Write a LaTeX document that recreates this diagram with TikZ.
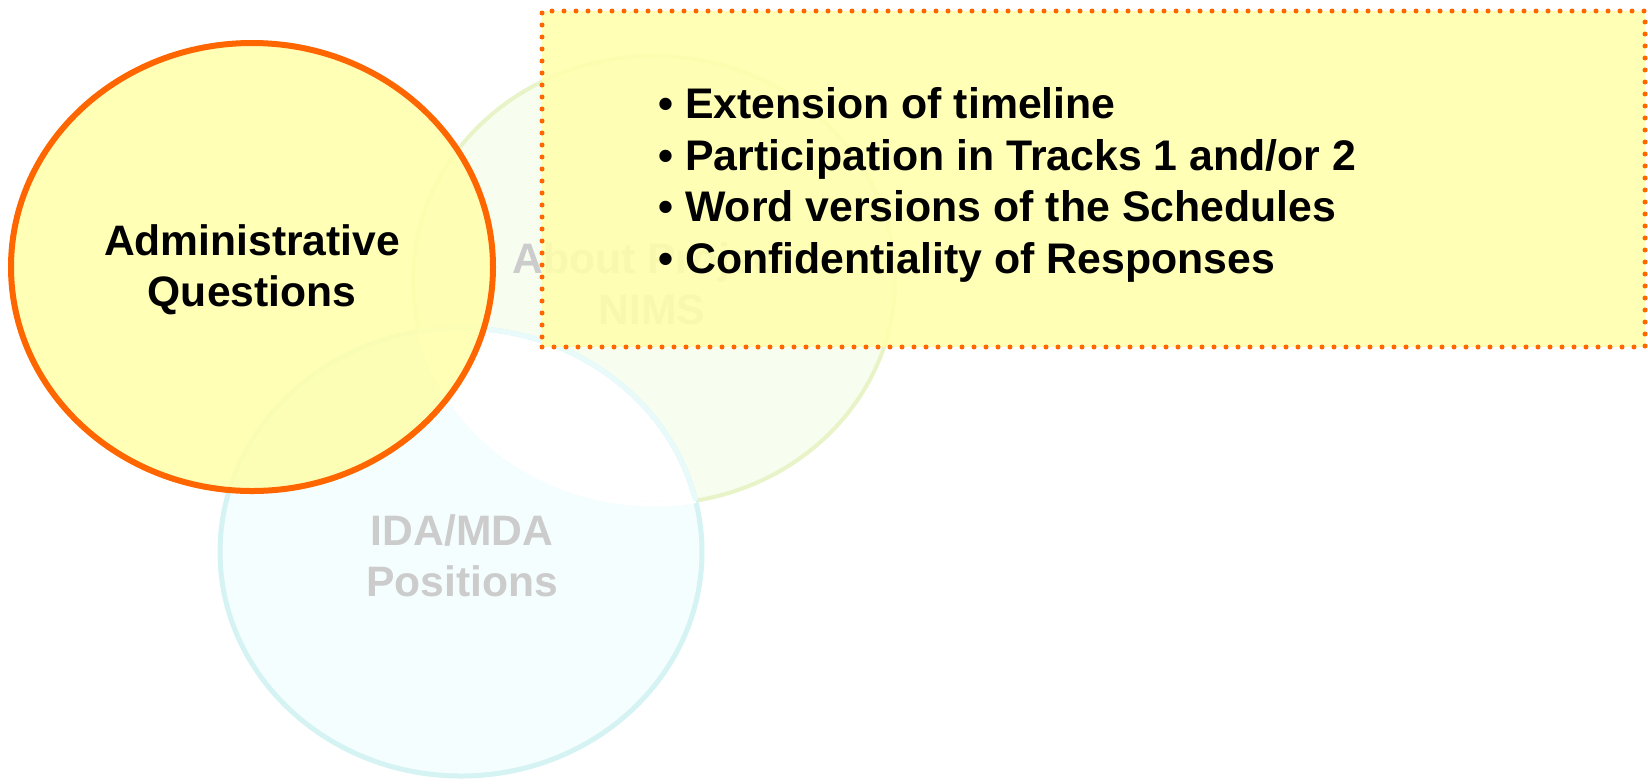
\documentclass[tikz,border=0pt]{standalone}
\usepackage{fontspec}
\setmainfont{Liberation Sans}
\usetikzlibrary{shapes.geometric}
\definecolor{ayellow}{HTML}{FFFFAC}
\definecolor{aorange}{HTML}{FF6600}
\definecolor{ngreenfill}{HTML}{F7FDEF}
\definecolor{ngreenline}{HTML}{E8F4C8}
\definecolor{icyanfill}{HTML}{F5FEFE}
\definecolor{icyanline}{HTML}{D5F3F3}
\definecolor{faintgray}{HTML}{CCCCCC}
\begin{document}
\begin{tikzpicture}[x=0.5pt,y=-0.5pt,
  bigfont/.style={font=\bfseries\fontsize{21.3}{25.5}\selectfont},
  lbl/.style={bigfont, align=center, inner sep=0pt},
  circ/.style={x radius=120.5pt, y radius=112pt}]
\useasboundingbox (0,0) rectangle (1648,783);
% faint background circles
\fill[ngreenfill] (654,280) ellipse [circ];
\fill[icyanfill] (461,552) ellipse [circ];
\begin{scope}
  \clip (654,280) ellipse [circ];
  \fill[white] (461,552) ellipse [circ];
\end{scope}
\draw[ngreenline, line width=2pt] (654,280) ellipse [circ];
\draw[icyanline, line width=2.5pt] (461,552) ellipse [circ];
\begin{scope}
  \clip (461,552) ellipse [circ];
  \draw[white, line width=2.5pt] (654,280) ellipse [circ];
\end{scope}
\begin{scope}
  \clip (654,280) ellipse [circ];
  \draw[icyanfill!60!icyanline, line width=2.5pt] (461,552) ellipse [circ];
\end{scope}
\node[lbl, text=faintgray] (nims) at (652,284) {About Project\\NIMS};
\node[lbl, text=faintgray] (ida) at (462,556) {IDA/MDA\\Positions};
% administrative ellipse
\node[ellipse, draw=aorange, line width=3pt, fill=ayellow, fill opacity=0.88, text opacity=1,
  minimum width=241pt, minimum height=224pt, inner sep=0pt, bigfont, align=center]
  (adm) at (252,267) {};
\node[lbl] (admtext) at (252,270) {Administrative\\Questions};
% callout box
\node[draw=aorange, line width=2.5pt, dash pattern=on 0pt off 6pt, line cap=round,
  fill=ayellow, fill opacity=0.88, minimum width=551.5pt, minimum height=168pt, inner sep=0pt]
  (box) at (1093.5,179) {};
\node[anchor=west, align=left, inner sep=0pt, font=\bfseries\fontsize{21.4}{25.8}\selectfont]
  (list) at (658,185) {• Extension of timeline\\• Participation in Tracks 1 and/or 2\\• Word versions of the Schedules\\• Confidentiality of Responses};
\end{tikzpicture}
\end{document}
